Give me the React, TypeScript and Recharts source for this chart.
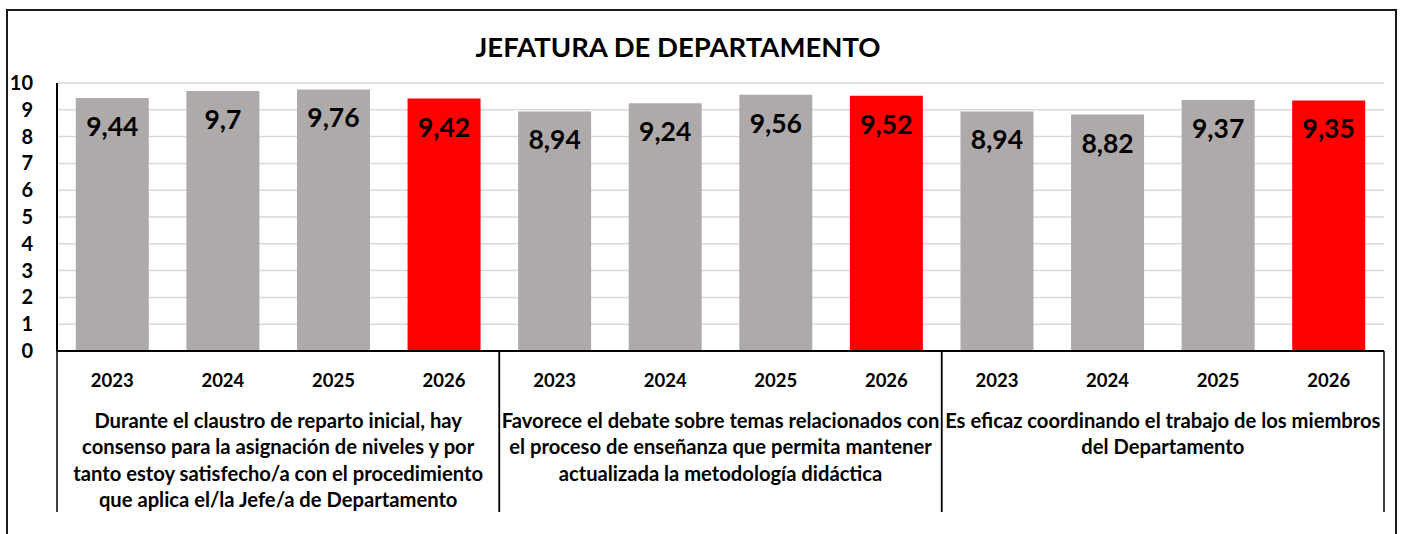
import React from 'react';
import { BarChart, Bar, XAxis, YAxis, CartesianGrid, Cell, LabelList } from 'recharts';

const title = 'JEFATURA DE DEPARTAMENTO';
const years = ['2023', '2024', '2025', '2026'];
const groupIds = ['G1', 'G2', 'G3'];
const groupLines: string[][] = [
  [
    'Durante el claustro de reparto inicial, hay',
    'consenso para la asignación de niveles y por',
    'tanto estoy satisfecho/a con el procedimiento',
    'que aplica el/la Jefe/a de Departamento',
  ],
  [
    'Favorece el debate sobre temas relacionados con',
    'el proceso de enseñanza que permita mantener',
    'actualizada la metodología didáctica',
  ],
  ['Es eficaz coordinando el trabajo de los miembros', 'del Departamento'],
];
const scoresG1 = [9.44, 9.7, 9.76, 9.42];
const scoresG2 = [8.94, 9.24, 9.56, 9.52];
const scoresG3 = [8.94, 8.82, 9.37, 9.35];
const yTicks = [0, 1, 2, 3, 4, 5, 6, 7, 8, 9, 10];

const GRAY = '#AEAAAA';
const RED = '#FF0000';
const FONT = 'Lato, "Open Sans", sans-serif';

const allScores = [scoresG1, scoresG2, scoresG3];
const data = groupIds.flatMap((g, gi) =>
  years.map((y, yi) => ({
    key: `${g}-${y}`,
    year: y,
    group: g,
    value: allScores[gi][yi],
    current: yi === years.length - 1,
  }))
);

const W = 1402;
const H = 534;
const MARGIN = { top: 83, right: 18, left: 7, bottom: 13 };
const YAXIS_W = 50;
const YEAR_AXIS_H = 50;
const GROUP_AXIS_H = 120;
const PLOT_W = W - MARGIN.left - YAXIS_W - MARGIN.right;
const GROUP_W = PLOT_W / groupIds.length;

const fmt = (v: number) => String(v).replace('.', ',');

const YearTick = (props: any) => {
  const { x, y, payload } = props;
  return (
    <text x={x} y={y + 36} textAnchor="middle" fontFamily={FONT} fontWeight={700} fontSize={18.5} fill="#000">
      {payload.value}
    </text>
  );
};

const GroupTick = (props: any) => {
  const { x, y, payload } = props;
  const gi = groupIds.indexOf(payload.value);
  const lines = gi >= 0 ? groupLines[gi] : [];
  const top = y - YEAR_AXIS_H;
  const bottom = y + 111;
  return (
    <g>
      <line x1={x - GROUP_W / 2} x2={x - GROUP_W / 2} y1={top} y2={bottom} stroke="#000" strokeWidth={1.5} />
      <line x1={x + GROUP_W / 2} x2={x + GROUP_W / 2} y1={top} y2={bottom} stroke="#000" strokeWidth={1.5} />
      <text textAnchor="middle" fontFamily={FONT} fontWeight={700} fontSize={20.2} fill="#000">
        {lines.map((l, i) => (
          <tspan key={i} x={x} y={y + 27 + i * 26.3}>
            {l}
          </tspan>
        ))}
      </text>
    </g>
  );
};

const YTick = (props: any) => {
  const { x, y, payload } = props;
  return (
    <text x={x} y={y + 7} textAnchor="end" fontFamily={FONT} fontWeight={700} fontSize={20} fill="#000">
      {payload.value}
    </text>
  );
};

const ValueLabel = (props: any) => {
  const { x, y, width, value } = props;
  return (
    <text x={x + width / 2} y={y + 38} textAnchor="middle" fontFamily={FONT} fontWeight={700} fontSize={26.5} fill="#000">
      {fmt(value)}
    </text>
  );
};

export default function App() {
  return (
    <div style={{ position: 'absolute', left: 0, top: 0, width: W, height: H, overflow: 'hidden', background: '#fff' }}>
      <BarChart width={W} height={H} data={data} margin={MARGIN} barCategoryGap="17%">
        <CartesianGrid horizontal vertical={false} stroke="#D9D9D9" strokeWidth={1.5} />
        <YAxis
          type="number"
          domain={[0, 10]}
          ticks={yTicks}
          interval={0}
          width={YAXIS_W}
          tickLine={false}
          tickSize={0}
          tickMargin={24}
          axisLine={{ stroke: '#000', strokeWidth: 2 }}
          tick={<YTick />}
        />
        <XAxis
          dataKey="year"
          height={YEAR_AXIS_H}
          interval={0}
          tickLine={false}
          tickSize={0}
          tickMargin={0}
          axisLine={{ stroke: '#000', strokeWidth: 2 }}
          tick={<YearTick />}
        />
        <XAxis
          xAxisId="grp"
          dataKey="group"
          allowDuplicatedCategory={false}
          height={GROUP_AXIS_H}
          interval={0}
          tickLine={false}
          tickSize={0}
          tickMargin={0}
          axisLine={false}
          tick={<GroupTick />}
        />
        <Bar dataKey="value" isAnimationActive={false}>
          {data.map((d) => (
            <Cell key={d.key} fill={d.current ? RED : GRAY} />
          ))}
          <LabelList dataKey="value" content={<ValueLabel />} />
        </Bar>
      </BarChart>
      <svg width={W} height={H} style={{ position: 'absolute', left: 0, top: 0, pointerEvents: 'none' }}>
        <path d={`M7 ${H + 5} V10 H1396 V${H + 5}`} fill="none" stroke="#1a1a1a" strokeWidth={2} />
        <text x={678} y={57} textAnchor="middle" fontFamily={FONT} fontWeight={700} fontSize={27.5} fill="#000">
          {title}
        </text>
      </svg>
    </div>
  );
}
